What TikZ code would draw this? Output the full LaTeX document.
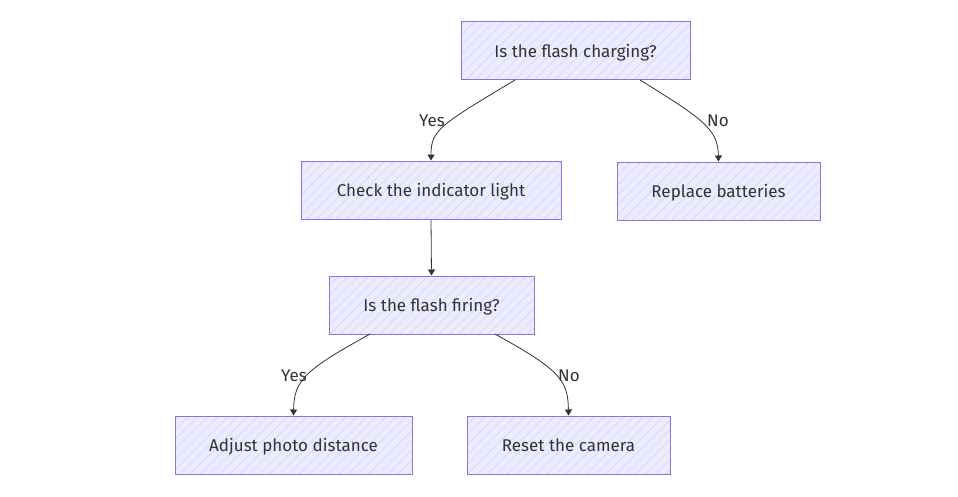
\documentclass[tikz,border=0pt]{standalone}
\usepackage{fontspec}
\setmainfont{Fira Sans}
\usetikzlibrary{patterns.meta,arrows.meta}
\definecolor{boxfill}{HTML}{ECECFF}
\definecolor{boxline}{HTML}{9370DB}
\definecolor{hatch}{HTML}{DCD6F7}
\definecolor{edge}{HTML}{333333}
\definecolor{txt}{HTML}{333333}
\tikzset{
  flowbox/.style={draw=boxline, line width=1pt,
    preaction={fill=boxfill},
    pattern={Lines[angle=45,distance=7pt,line width=0.8pt]}, pattern color=hatch,
    minimum height=58pt, inner sep=0pt, text=txt, text height=16pt, text depth=3pt,
    font=\fontsize{17}{20}\selectfont},
  flowedge/.style={draw=edge, line width=0.8pt, -{Triangle[length=6pt, width=7pt]}},
  elabel/.style={text=txt, font=\fontsize{17}{20}\selectfont, inner sep=0pt}
}
\begin{document}
\begin{tikzpicture}[x=1pt,y=-1pt]
\useasboundingbox (0,0) rectangle (958,496);
\node[flowbox, minimum width=229pt] (A) at (575.5,50.5) {Is the flash charging?};
\node[flowbox, minimum width=260pt] (B) at (431,190) {Check the indicator light};
\node[flowbox, minimum width=203pt] (C) at (718.5,191) {Replace batteries};
\node[flowbox, minimum width=205pt] (D) at (431.5,305) {Is the flash firing?};
\node[flowbox, minimum width=237pt] (E) at (293.5,445) {Adjust photo distance};
\node[flowbox, minimum width=203pt] (F) at (568.5,445) {Reset the camera};
\coordinate (a1) at (515,80);
\coordinate (a2) at (640,80);
\coordinate (d1) at (370,334);
\coordinate (d2) at (495,334);
\draw[flowedge] (a1) .. controls (440,125) and (431,130) .. (B.north);
\draw[flowedge] (a2) .. controls (705,120) and (718,130) .. (C.north);
\draw[flowedge] (B.south) -- (D.north);
\draw[flowedge] (d1) .. controls (305,370) and (294,380) .. (E.north);
\draw[flowedge] (d2) .. controls (560,370) and (568,380) .. (F.north);
\node[elabel] (ly1) at (432,121) {Yes};
\node[elabel] (ln1) at (718,121) {No};
\node[elabel] (ly2) at (294,376) {Yes};
\node[elabel] (ln2) at (569,376) {No};
\end{tikzpicture}
\end{document}
